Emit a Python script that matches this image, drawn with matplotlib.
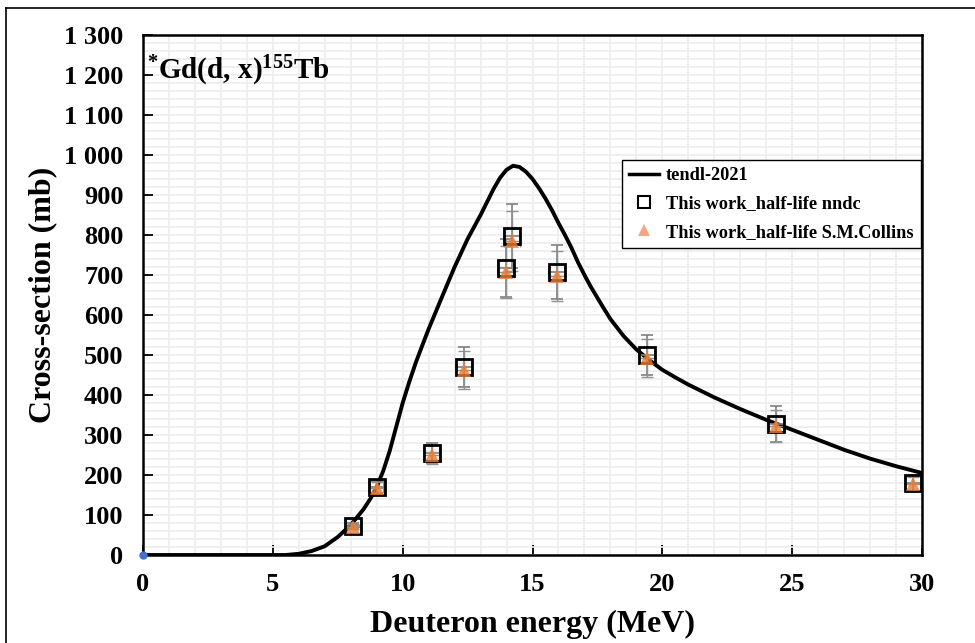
"""
155Tb cross-section plot
"""

import numpy as np
import matplotlib.pyplot as plt
from matplotlib.ticker import MultipleLocator, FuncFormatter
from matplotlib.lines import Line2D

#TENDL-2021 curve
tendl_e = [0, 1, 2, 3, 4, 5, 5.5, 6, 6.5, 7, 7.5, 8, 8.5, 8.75, 9, 9.25, 9.5,
           9.75, 10, 10.25, 10.5, 10.75, 11, 11.5, 12, 12.5, 13, 13.5, 13.75,
           14, 14.25, 14.5, 14.75, 15, 15.25, 15.5, 15.75, 16, 16.25, 16.5,
           16.75, 17, 17.25, 17.5, 17.75, 18, 18.5, 19, 19.5, 20, 20.5, 21,
           22, 23, 24, 25, 26, 27, 28, 29, 30]
tendl_xs = [0, 0, 0, 0, 0, 0, 0, 3, 10, 22, 45, 75, 115, 140, 170, 210, 260,
            320, 380, 432, 480, 523, 565, 643, 720, 790, 850, 915, 943,
            963, 973, 970, 958, 940, 917, 891, 862, 830, 800, 768,
            732, 700, 670, 643, 616, 590, 548, 514, 487, 463, 444, 426,
            394, 365, 338, 313, 288, 263, 241, 222, 205]

#Measured points
energy = [8.1, 9.0, 11.13, 12.36, 13.98, 14.21, 15.94, 19.4, 24.37, 29.65]
energy_err = [0.3, 0.3, 0.3, 0.3, 0.3, 0.3, 0.3, 0.3, 0.3, 0.3]
xs_nndc = [73, 170, 255, 470, 717, 797, 707, 500, 327, 180]
err_nndc = [7, 16, 25, 50, 72, 80, 68, 50, 45, 20]
xs_collins = [71, 167, 251, 463, 708, 786, 698, 493, 322, 177]
err_collins = [7, 15, 24, 47, 65, 75, 62, 47, 40, 18]

plt.rcParams['font.family'] = ['Liberation Serif', 'DejaVu Serif']
plt.rcParams['font.weight'] = 'bold'
plt.rcParams['mathtext.fontset'] = 'custom'
plt.rcParams['mathtext.rm'] = 'Liberation Serif:bold'
plt.rcParams['mathtext.it'] = 'Liberation Serif:bold'
plt.rcParams['mathtext.bf'] = 'Liberation Serif:bold'

fig = plt.figure(figsize=(9.75, 6.43), dpi=100)
ax = fig.add_axes([143/975, 1-555/643, (922-143)/975, (555-35)/643])

#Gridlines
ax.xaxis.set_minor_locator(MultipleLocator(1))
ax.yaxis.set_minor_locator(MultipleLocator(20))
ax.grid(which='both', color='#ececec', linewidth=1.2)
ax.set_axisbelow(True)

ax.plot(tendl_e, tendl_xs, color='black', linewidth=2.8, zorder=3,
        solid_joinstyle='round')

ax.errorbar(energy, xs_nndc, yerr=err_nndc, xerr=energy_err, fmt='none',
            ecolor='#808080', elinewidth=1.2, capsize=4, capthick=1.2, zorder=4)
ax.errorbar(energy, xs_collins, yerr=err_collins, xerr=energy_err, fmt='none',
            ecolor='#909090', elinewidth=1.0, capsize=4, capthick=1.0, zorder=4)
ax.plot(energy, xs_nndc, 's', markersize=12, markerfacecolor='none',
        markeredgecolor='black', markeredgewidth=2, zorder=5)
ax.plot(energy, xs_collins, '^', markersize=10, color='#ED7D31', alpha=0.8,
        markeredgewidth=0, zorder=6)
ax.plot([0], [0], 'o', color='#4472C4', markersize=5, zorder=7, clip_on=False)

ax.set_xlim(0, 30)
ax.set_ylim(0, 1300)
ax.xaxis.set_major_locator(MultipleLocator(5))
ax.yaxis.set_major_locator(MultipleLocator(100))
ax.yaxis.set_major_formatter(FuncFormatter(lambda v, p: f'{int(v):,}'.replace(',', ' ')))
ax.tick_params(which='major', direction='in', length=7, width=1.3, labelsize=19)
ax.tick_params(axis='x', which='major', pad=13)
ax.tick_params(axis='y', which='major', pad=14)
ax.tick_params(which='minor', length=0)
for lab in ax.get_xticklabels() + ax.get_yticklabels():
    lab.set_fontweight('bold')
for s in ax.spines.values():
    s.set_linewidth(1.8)

ax.set_xlabel('Deuteron energy (MeV)', fontsize=23, fontweight='bold', labelpad=10)
ax.set_ylabel('Cross-section (mb)', fontsize=23, fontweight='bold', labelpad=5)

ax.text(0.005, 0.93, r'$^{*}$Gd(d, x)$^{155}$Tb', transform=ax.transAxes,
        fontsize=21, fontweight='bold', va='center', ha='left')

handles = [Line2D([], [], color='black', linewidth=2.5),
           Line2D([], [], marker='s', linestyle='none', markersize=8,
                  markerfacecolor='none', markeredgecolor='black', markeredgewidth=1.5),
           Line2D([], [], marker='^', linestyle='none', markersize=8,
                  color='#F4A582', markeredgewidth=0)]
leg = ax.legend(handles, ['tendl-2021', 'This work_half-life nndc',
                          'This work_half-life S.M.Collins'],
                loc='upper left', bbox_to_anchor=(0.615, 0.76), borderaxespad=0,
                fontsize=13.2, frameon=True, fancybox=False, edgecolor='black',
                framealpha=1, handlelength=1.6, handletextpad=0.4,
                borderpad=0.4, labelspacing=0.62)
leg.get_frame().set_linewidth(1.0)
for t in leg.get_texts():
    t.set_fontweight('bold')

#Outer frame of the chart area
fig.add_artist(Line2D([6/975, 6/975], [0, 1-8/643], color='black', linewidth=1.2))
fig.add_artist(Line2D([6/975, 1], [1-8/643, 1-8/643], color='black', linewidth=1.2))

fig.savefig('out.png')
